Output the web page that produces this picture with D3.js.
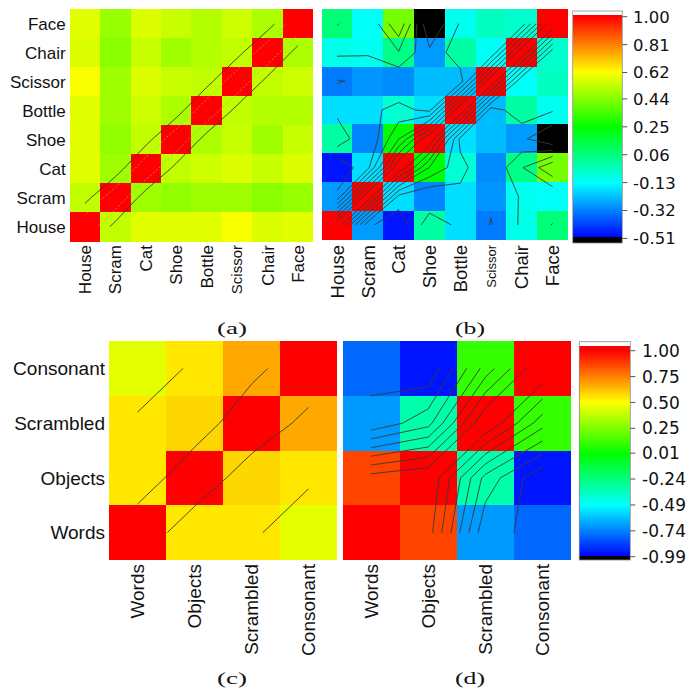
<!DOCTYPE html>
<html>
<head>
<meta charset="utf-8">
<script src="https://cdn.jsdelivr.net/npm/d3@7"></script>
<style>
body { margin: 0; background: #fff; }
text { font-family: "Liberation Sans", Arial, sans-serif; fill: #111; }
</style>
</head>
<body>
<div id="svg-container"></div>
<script>
// categories
var objCats = ["House", "Scram", "Cat", "Shoe", "Bottle", "Scissor", "Chair", "Face"]
var condCats = ["Words", "Objects", "Scrambled", "Consonant"]

// (a) similarity, rows/cols in objCats order
var matA = [
    [1.00, 0.53, 0.58, 0.58, 0.58, 0.615, 0.57, 0.58],
    [0.53, 1.00, 0.48, 0.46, 0.48, 0.48, 0.45, 0.47],
    [0.58, 0.48, 1.00, 0.53, 0.55, 0.57, 0.54, 0.57],
    [0.58, 0.46, 0.53, 1.00, 0.50, 0.54, 0.48, 0.54],
    [0.58, 0.48, 0.55, 0.50, 1.00, 0.53, 0.51, 0.51],
    [0.615, 0.48, 0.57, 0.54, 0.53, 1.00, 0.53, 0.55],
    [0.57, 0.45, 0.54, 0.48, 0.51, 0.53, 1.00, 0.50],
    [0.58, 0.47, 0.57, 0.54, 0.51, 0.55, 0.50, 1.00]
]

// (b)
var matB = [
    [1.00, -0.28, -0.48, 0.00, -0.18, -0.33, -0.10, 0.07],
    [-0.28, 1.00, -0.18, -0.31, -0.18, -0.29, -0.11, -0.12],
    [-0.48, -0.18, 1.00, 0.24, -0.07, -0.30, 0.045, 0.42],
    [0.00, -0.31, 0.24, 1.00, -0.18, -0.23, -0.28, -0.51],
    [-0.18, -0.18, -0.07, -0.18, 1.00, -0.23, 0.00, -0.11],
    [-0.33, -0.29, -0.30, -0.23, -0.23, 1.00, -0.12, -0.04],
    [-0.10, -0.11, 0.045, -0.28, 0.00, -0.12, 1.00, -0.06],
    [0.07, -0.12, 0.42, -0.51, -0.11, -0.04, -0.06, 1.00]
]

// (c) and (d), rows/cols in condCats order
var matC = [
    [1.00, 0.55, 0.55, 0.45],
    [0.55, 1.00, 0.58, 0.55],
    [0.55, 0.58, 1.00, 0.67],
    [0.45, 0.55, 0.67, 1.00]
]
var matD = [
    [1.00, 0.867, -0.69, -0.79],
    [0.867, 1.00, -0.327, -0.95],
    [-0.69, -0.327, 1.00, 0.105],
    [-0.79, -0.95, 0.105, 1.00]
]

// colour bar ticks
var ticksB = [1.00, 0.81, 0.62, 0.44, 0.25, 0.06, -0.13, -0.32, -0.51]
var ticksD = [1.00, 0.75, 0.50, 0.25, 0.01, -0.24, -0.49, -0.74, -0.99]

// contour levels
var levelsA = [0.62, 0.81]
var levelsB = [0.81, 0.62, 0.44, 0.25, 0.06, -0.13, -0.32]
var levelsC = [0.53, 0.765]
var levelsD = [0.75, 0.50, 0.25, 0.01, -0.24, -0.49, -0.74]

var captions = ["(a)", "(b)", "(c)", "(d)"]

svg = d3.select("#svg-container")
    .append("svg")
    .attr("width", 692)
    .attr("height", 690)

rainbow = d3.scaleLinear()
    .domain([0, 0.25, 0.5, 0.75, 1])
    .range(["#0000ff", "#00ffff", "#00ff00", "#ffff00", "#ff0000"])
    .clamp(true)

function get_color(v, lo, hi) {
    var t = (v - lo) / (hi - lo)
    if (t < 0.005) return "#000000"
    return rainbow(t)
}

function draw_panel(id, cats, mat, box, lo, hi, levels, fonts) {
    var n = cats.length
    var x = d3.scaleBand().domain(cats).range([box.x0, box.x1])
    var y = d3.scaleBand().domain(cats.slice().reverse()).range([box.y0, box.y1])

    var cells = []
    mat.forEach((row, i) => row.forEach((v, j) => cells.push({ r: cats[i], c: cats[j], v: v })))

    var g = svg.append("g")
    g.selectAll("rect")
        .data(cells)
        .enter()
        .append("rect")
        .attr("x", (d) => x(d.c))
        .attr("y", (d) => y(d.r))
        .attr("width", x.bandwidth())
        .attr("height", y.bandwidth())
        .attr("fill", (d) => get_color(d.v, lo, hi))
        .attr("shape-rendering", "crispEdges")

    // contours: grid row 0 is the top row; negated so saddles join the high cells
    var grid = []
    for (var j = 0; j < n; j++)
        for (var i = 0; i < n; i++)
            grid.push(-mat[n - 1 - j][i])
    var contours = d3.contours().size([n, n]).thresholds(levels.map((l) => -l))(grid)

    var xg = d3.scaleLinear().domain([0, n]).range([box.x0, box.x1])
    var yg = d3.scaleLinear().domain([0, n]).range([box.y0, box.y1])
    var path = d3.geoPath(d3.geoTransform({
        point: function(px, py) { this.stream.point(xg(px), yg(py)) }
    }))

    svg.append("clipPath")
        .attr("id", "clip-" + id)
        .append("rect")
        .attr("x", xg(0.5))
        .attr("y", yg(0.5))
        .attr("width", xg(n - 0.5) - xg(0.5))
        .attr("height", yg(n - 0.5) - yg(0.5))

    var isFaint = (d) => fonts.faint && fonts.faint.indexOf(-d.value) >= 0

    g.append("g")
        .attr("clip-path", "url(#clip-" + id + ")")
        .selectAll("path")
        .data(contours)
        .enter()
        .append("path")
        .attr("d", path)
        .attr("fill", "none")
        .attr("stroke", (d) => isFaint(d) ? "#a8a8a8" : "#3a3a3a")
        .attr("stroke-dasharray", (d) => isFaint(d) ? "2,2" : null)
        .attr("stroke-width", (d) => isFaint(d) ? 0.7 : 0.9)

    if (fonts.y) {
        g.selectAll(".ylab")
            .data(cats)
            .enter()
            .append("text")
            .attr("class", "ylab")
            .attr("x", box.x0 - 4)
            .attr("y", (d) => y(d) + y.bandwidth() / 2)
            .attr("dy", "0.36em")
            .attr("text-anchor", "end")
            .style("font-size", fonts.y + "px")
            .text((d) => d)
    }

    g.selectAll(".xlab")
        .data(cats)
        .enter()
        .append("text")
        .attr("class", "xlab")
        .attr("transform", (d) => "translate(" + (x(d) + x.bandwidth() / 2) + "," + fonts.xTop + ") rotate(-90)")
        .attr("dy", "0.36em")
        .attr("text-anchor", "end")
        .style("font-size", (d) => (fonts.small[d] || fonts.x) + "px")
        .text((d) => d)
}

function draw_colorbar(lo, hi, ticks, box, fontSize, labelX) {
    var yS = d3.scaleLinear().domain([lo, hi]).range([box.tickBottom, box.tickTop])
    var g = svg.append("g")

    g.selectAll("rect")
        .data(d3.range(box.colorTop, box.y1, 1))
        .enter()
        .append("rect")
        .attr("x", box.x0)
        .attr("y", (d) => d)
        .attr("width", box.x1 - box.x0)
        .attr("height", 1)
        .attr("fill", (d) => get_color(yS.invert(d + 0.5), lo, hi))
        .attr("shape-rendering", "crispEdges")

    g.append("rect")
        .attr("x", box.x0)
        .attr("y", box.y0)
        .attr("width", box.x1 - box.x0)
        .attr("height", box.colorTop - box.y0)
        .attr("fill", "#ffffff")

    g.append("rect")
        .attr("x", box.x0)
        .attr("y", box.y0)
        .attr("width", box.x1 - box.x0)
        .attr("height", box.y1 - box.y0)
        .attr("fill", "none")
        .attr("stroke", "#8a8a8a")
        .attr("stroke-width", 0.8)

    g.selectAll("line")
        .data(ticks)
        .enter()
        .append("line")
        .attr("x1", box.x1)
        .attr("x2", box.x1 + 5)
        .attr("y1", (d) => yS(d))
        .attr("y2", (d) => yS(d))
        .attr("stroke", "#555")

    g.selectAll("text")
        .data(ticks)
        .enter()
        .append("text")
        .attr("x", labelX)
        .attr("y", (d) => yS(d))
        .attr("dy", "0.36em")
        .style("font-family", "'DejaVu Sans', sans-serif")
        .style("font-size", fontSize + "px")
        .text((d) => d.toFixed(2))
}

draw_panel("a", objCats, matA, { x0: 69.7, x1: 313, y0: 9.3, y1: 241.5 }, -0.51, 1.00, levelsA,
    { y: 17, x: 17, xTop: 245, small: { Scissor: 15 }, faint: [0.81] })
draw_panel("b", objCats, matB, { x0: 321.7, x1: 568, y0: 9.3, y1: 239.5 }, -0.51, 1.00, levelsB,
    { y: 0, x: 18.5, xTop: 245, small: { Scissor: 13 } })
draw_panel("c", condCats, matC, { x0: 109, x1: 337, y0: 341, y1: 560 }, -0.99, 1.00, levelsC,
    { y: 19, x: 19, xTop: 564, small: {} })
draw_panel("d", condCats, matD, { x0: 342.7, x1: 571, y0: 341, y1: 560 }, -0.99, 1.00, levelsD,
    { y: 0, x: 19, xTop: 564, small: {} })

draw_colorbar(-0.51, 1.00, ticksB,
    { x0: 572.7, x1: 622.3, y0: 11, colorTop: 15, y1: 243, tickTop: 16.7, tickBottom: 238.4 }, 16.5, 633)
draw_colorbar(-0.99, 1.00, ticksD,
    { x0: 579.3, x1: 630.3, y0: 341.7, colorTop: 346, y1: 560, tickTop: 350.7, tickBottom: 556.7 }, 17, 642)

// captions
var capPos = [[232, 329], [470, 329], [232, 679], [470, 679]]
svg.selectAll(".cap")
    .data(captions)
    .enter()
    .append("text")
    .attr("class", "cap")
    .attr("x", (d, i) => capPos[i][0] - 15)
    .attr("y", (d, i) => capPos[i][1])
    .attr("dy", "0.3em")
    .attr("textLength", 30)
    .attr("lengthAdjust", "spacingAndGlyphs")
    .style("font-family", "'Liberation Serif', 'DejaVu Serif', serif")
    .style("font-size", "17px")
    .text((d) => d)
</script>
</body>
</html>
